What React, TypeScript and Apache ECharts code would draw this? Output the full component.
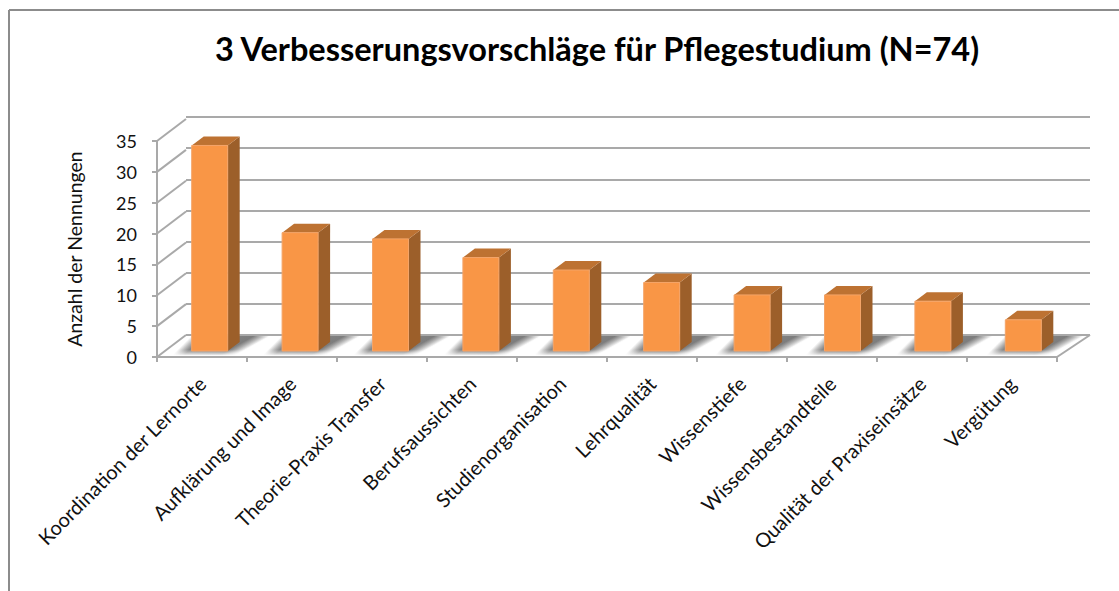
import React, { useEffect, useRef } from "react";
import * as echarts from "echarts";

const titleText = "3 Verbesserungsvorschläge für Pflegestudium (N=74)";
const yAxisName = "Anzahl der Nennungen";
const categories = [
  "Koordination der Lernorte",
  "Aufklärung und Image",
  "Theorie-Praxis Transfer",
  "Berufsaussichten",
  "Studienorganisation",
  "Lehrqualität",
  "Wissenstiefe",
  "Wissensbestandteile",
  "Qualität der Praxiseinsätze",
  "Vergütung",
];
const values = [33, 19, 18, 15, 13, 11, 9, 9, 8, 5];
const yTicks = [0, 5, 10, 15, 20, 25, 30, 35];

const FONT = "Lato";
const GRID = "#a9a9a9";
const W = 1119;
const H = 591;
const DX = 29;
const DY = 22;

export default function App() {
  const ref = useRef<HTMLDivElement>(null);
  useEffect(() => {
    document.body.style.margin = "0";
    const chart = echarts.init(ref.current!, undefined, { renderer: "svg" });
    const poly = (points: number[][], style: any, extra: any = {}) => ({
      type: "polygon",
      shape: { points },
      style,
      ...extra,
    });
    chart.setOption({
      animation: false,
      backgroundColor: "#fff",
      title: {
        text: titleText,
        left: 592,
        textAlign: "center",
        top: 27,
        textStyle: { fontFamily: FONT, fontSize: 32.5, fontWeight: "bold", color: "#000" },
      },
      graphic: [
        { type: "line", shape: { x1: 9, y1: 10, x2: W, y2: 10 }, style: { stroke: "#8c8c8c", lineWidth: 2 } },
        { type: "line", shape: { x1: 9, y1: 10, x2: 9, y2: H }, style: { stroke: "#8c8c8c", lineWidth: 2 } },
        { type: "line", z: 1, shape: { x1: 1057, y1: 357, x2: 1090, y2: 335 }, style: { stroke: GRID, lineWidth: 2 } },
      ],
      grid: [
        { left: 157, top: 141, width: 900, height: 216 },
        { left: 186, top: 117, width: 904, height: 218 },
      ],
      xAxis: [
        {
          type: "category",
          gridIndex: 0,
          data: categories,
          axisLine: { show: true, lineStyle: { color: GRID, width: 2 } },
          axisTick: { show: true, length: 5, alignWithLabel: false, lineStyle: { color: GRID, width: 2 } },
          axisLabel: {
            interval: 0,
            rotate: 45,
            margin: 23,
            fontFamily: FONT,
            fontSize: 20,
            color: "#111",
          },
        },
        {
          type: "category",
          gridIndex: 1,
          data: categories,
          axisLine: { show: false },
          axisTick: { show: false },
          axisLabel: { show: false },
        },
      ],
      yAxis: [
        {
          type: "value",
          gridIndex: 0,
          min: 0,
          max: 35,
          interval: 5,
          name: yAxisName,
          nameLocation: "middle",
          nameGap: 73,
          nameTextStyle: { fontFamily: FONT, fontSize: 19.5, color: "#111" },
          axisLine: { show: true, lineStyle: { color: GRID, width: 2 } },
          axisTick: { show: true, length: 5, lineStyle: { color: GRID, width: 2 } },
          axisLabel: { margin: 20, fontFamily: FONT, fontSize: 18, color: "#111" },
          splitLine: { show: false },
        },
        {
          type: "value",
          gridIndex: 1,
          min: 0,
          max: 35,
          interval: 5,
          axisLine: { show: false },
          axisTick: { show: false },
          axisLabel: { show: false },
          splitLine: { show: true, lineStyle: { color: GRID, width: 2 } },
        },
      ],
      series: [
        {
          type: "custom",
          name: "wall",
          xAxisIndex: 0,
          yAxisIndex: 0,
          z: 1,
          silent: true,
          data: yTicks.map((t) => [0, t]),
          renderItem: (_p: any, api: any) => {
            const y = api.coord([0, api.value(1)])[1];
            return {
              type: "line",
              shape: { x1: 157, y1: y, x2: 157 + DX, y2: y - DY },
              style: { stroke: GRID, lineWidth: 2 },
            };
          },
        },
        {
          type: "custom",
          name: "floor",
          xAxisIndex: 1,
          yAxisIndex: 1,
          z: 1,
          silent: true,
          data: values.map((v, i) => [i, v]),
          renderItem: (_p: any, api: any) => {
            const c = api.coord([api.value(0), 0]);
            const l = c[0] - 21.5 - 18;
            const children: any[] = [];
            for (let y = 336; y < 356; y++) {
              const x0 = l - 18 + (353 - y);
              const x1 = l + 52 + (350 - y) * 1.8;
              const width = x1 - x0;
              const alpha = y < 350 ? 1 : Math.max(0, 1 - (y - 349) / 6);
              const col = (a: number) => `rgba(125,125,125,${(a * alpha).toFixed(3)})`;
              children.push({
                type: "rect",
                shape: { x: x0, y, width, height: 1.2 },
                style: {
                  fill: new echarts.graphic.LinearGradient(0, 0, 1, 0, [
                    { offset: 0, color: col(0) },
                    { offset: 12 / width, color: col(0.9) },
                    { offset: 1 - 16 / width, color: col(1) },
                    { offset: 1, color: col(0) },
                  ]),
                },
              });
            }
            return { type: "group", children };
          },
        },
        {
          type: "custom",
          name: "Anzahl der Nennungen",
          xAxisIndex: 1,
          yAxisIndex: 1,
          z: 3,
          data: values.map((v, i) => [i, v]),
          renderItem: (_p: any, api: any) => {
            const top = api.coord([api.value(0), api.value(1)]);
            const base = api.coord([api.value(0), 0]);
            const l = top[0] - 21.5 - 18;
            const r = l + 36;
            const t = top[1] + 16;
            const b = base[1] + 16;
            const dx = 12;
            const dy = 9;
            return {
              type: "group",
              children: [
                poly([[r, t], [r + dx, t - dy], [r + dx, b - dy], [r, b]], { fill: "#9c5f2a" }),
                poly([[l, t], [l + dx, t - dy], [r + dx, t - dy], [r, t]], { fill: "#bd7232" }),
                { type: "rect", shape: { x: l, y: t, width: 36, height: b - t }, style: { fill: "#f99646", stroke: "#f4a468", lineWidth: 1 } },
              ],
            };
          },
        },
      ],
    });
    return () => chart.dispose();
  }, []);
  return <div ref={ref} style={{ width: W, height: H }} />;
}
